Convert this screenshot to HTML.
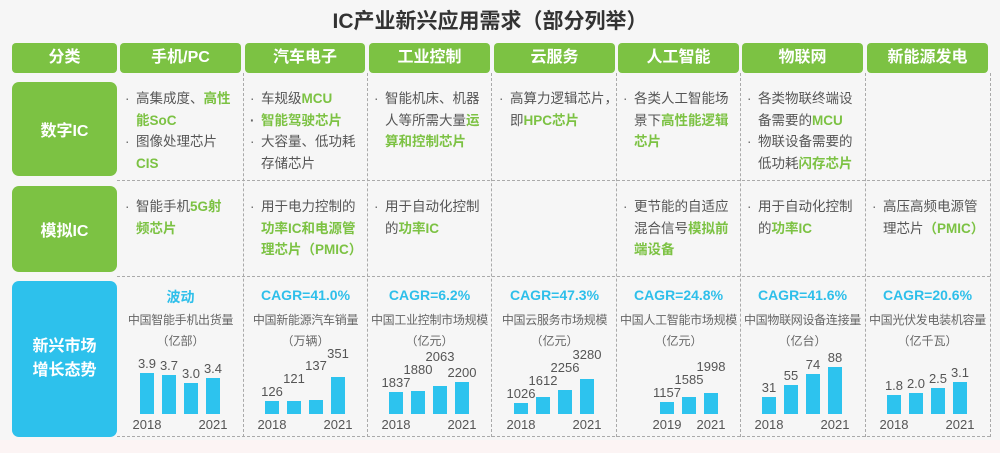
<!DOCTYPE html>
<html><head><meta charset="utf-8"><style>
body{margin:0;width:1000px;height:453px;background:#f6f6f6;font-family:"Liberation Sans","Noto Sans CJK SC",sans-serif;position:relative;overflow:hidden}
.a{position:absolute}
.hd{background:#7cc243;color:#fff;font-weight:bold;font-size:16px;text-align:center;line-height:30px;border-radius:4px;top:43px;height:30px}
.lab{background:#7cc243;color:#fff;font-weight:bold;font-size:16px;display:flex;align-items:center;justify-content:center;border-radius:7px;left:12px;width:105px}
.cell{font-size:13.5px;color:#555;line-height:21.5px;white-space:nowrap}
.cell p{margin:0;padding-left:12px;position:relative}
.cell p:before{content:"·";position:absolute;left:1px;color:#666}
.g{color:#7cc243;font-weight:bold}
.vl{border-left:1px dashed #aaa;width:0;top:73px;height:364px}
.hl{border-top:1px dashed #aaa;height:0;left:117px;width:873px}
</style></head><body>
<div class="a" style="left:0;top:440px;width:1000px;height:13px;background:#fcf4f4"></div>
<div class="a" style="left:0;width:980px;top:5px;text-align:center;font-size:21px;font-weight:bold;color:#333">IC产业新兴应用需求（部分列举）</div>

<div class="a hd" style="left:12px;width:105px">分类</div>
<div class="a hd" style="left:120px;width:121px">手机/PC</div>
<div class="a hd" style="left:245px;width:120px">汽车电子</div>
<div class="a hd" style="left:369px;width:121px">工业控制</div>
<div class="a hd" style="left:494px;width:121px">云服务</div>
<div class="a hd" style="left:618px;width:121px">人工智能</div>
<div class="a hd" style="left:742px;width:121px">物联网</div>
<div class="a hd" style="left:867px;width:121px">新能源发电</div>

<div class="a lab" style="top:82px;height:94px">数字IC</div>
<div class="a lab" style="top:186px;height:86px">模拟IC</div>
<div class="a lab" style="top:281px;height:156px;background:#2dc1ec;line-height:24px;text-align:center">新兴市场<br>增长态势</div>

<div class="a vl" style="left:243px"></div>
<div class="a vl" style="left:367px"></div>
<div class="a vl" style="left:491px"></div>
<div class="a vl" style="left:616px"></div>
<div class="a vl" style="left:740px"></div>
<div class="a vl" style="left:865px"></div>
<div class="a vl" style="left:990px"></div>
<div class="a hl" style="top:180px"></div>
<div class="a hl" style="top:276px"></div>
<div class="a hl" style="top:436px"></div>

<div class="a cell" style="left:124px;top:88px"><p>高集成度、<span class="g">高性<br>能SoC</span></p><p>图像处理芯片<br><span class="g">CIS</span></p></div>
<div class="a cell" style="left:249px;top:88px"><p>车规级<span class="g">MCU</span></p><p class="g">智能驾驶芯片</p><p>大容量、低功耗<br>存储芯片</p></div>
<div class="a cell" style="left:373px;top:88px"><p>智能机床、机器<br>人等所需大量<span class="g">运<br>算和控制芯片</span></p></div>
<div class="a cell" style="left:498px;top:88px"><p>高算力逻辑芯片，<br>即<span class="g">HPC芯片</span></p></div>
<div class="a cell" style="left:622px;top:88px"><p>各类人工智能场<br>景下<span class="g">高性能逻辑<br>芯片</span></p></div>
<div class="a cell" style="left:746px;top:88px"><p>各类物联终端设<br>备需要的<span class="g">MCU</span></p><p>物联设备需要的<br>低功耗<span class="g">闪存芯片</span></p></div>

<div class="a cell" style="left:124px;top:196px"><p>智能手机<span class="g">5G射<br>频芯片</span></p></div>
<div class="a cell" style="left:249px;top:196px"><p>用于电力控制的<br><span class="g">功率IC和电源管<br>理芯片（PMIC）</span></p></div>
<div class="a cell" style="left:373px;top:196px"><p>用于自动化控制<br>的<span class="g">功率IC</span></p></div>
<div class="a cell" style="left:622px;top:196px"><p>更节能的自适应<br>混合信号<span class="g">模拟前<br>端设备</span></p></div>
<div class="a cell" style="left:746px;top:196px"><p>用于自动化控制<br>的<span class="g">功率IC</span></p></div>
<div class="a cell" style="left:871px;top:196px"><p>高压高频电源管<br>理芯片<span class="g">（PMIC）</span></p></div>

<div id="charts"></div>
<script>
const panelTitles=["波动","CAGR=41.0%","CAGR=6.2%","CAGR=47.3%","CAGR=24.8%","CAGR=41.6%","CAGR=20.6%"];
const panelMetrics=["中国智能手机出货量","中国新能源汽车销量","中国工业控制市场规模","中国云服务市场规模","中国人工智能市场规模","中国物联网设备连接量","中国光伏发电装机容量"];
const panelUnits=["（亿部）","（万辆）","（亿元）","（亿元）","（亿元）","（亿台）","（亿千瓦）"];
const years=[[2018,2019,2020,2021],[2018,2019,2020,2021],[2018,2019,2020,2021],[2018,2019,2020,2021],[2019,2020,2021],[2018,2019,2020,2021],[2018,2019,2020,2021]];
const values=[[3.9,3.7,3.0,3.4],[126,121,137,351],[1837,1880,2063,2200],[1026,1612,2256,3280],[1157,1585,1998],[31,55,74,88],[1.8,2.0,2.5,3.1]];
const labels=[["3.9","3.7","3.0","3.4"],["126","121","137","351"],["1837","1880","2063","2200"],["1026","1612","2256","3280"],["1157","1585","1998"],["31","55","74","88"],["1.8","2.0","2.5","3.1"]];
const domainMin=[0,0,1000,0,0,0,0];
const domainMax=[4.2,417,2673,4110,4110,82.4,4.26];
const tickYears=[[2018,2021],[2018,2021],[2018,2021],[2018,2021],[2019,2021],[2018,2021],[2018,2021]];

const colLeft=[120,245,369,494,618,742,867];
const root=document.getElementById('charts');
const baseY=414, plotH=44;
function mk(tag,css,txt){const e=document.createElement(tag);e.className='a';e.style.cssText=css;if(txt!==undefined)e.textContent=txt;root.appendChild(e);return e;}
function textW(s){let w=0;for(const c of s)w+=(c==='.')?3.6:7.2;return w;}
for(let p=0;p<7;p++){
  const L=colLeft[p];
  const yS=v=>plotH*(v-domainMin[p])/(domainMax[p]-domainMin[p]);
  const xS=yr=>L+20+(yr-2018)*22;
  let t=mk('div',`left:${L-4}px;width:129px;top:287px;text-align:center;font-size:14px;font-weight:bold;color:#2ebfea`,panelTitles[p]);
  
  
  t=mk('div',`left:${L-6}px;width:133px;top:311px;text-align:center;font-size:12px;color:#666;white-space:nowrap;letter-spacing:-0.3px`,panelMetrics[p]);
  
  
  t=mk('div',`left:${L}px;width:121px;top:332px;text-align:center;font-size:12px;color:#666`,panelUnits[p]);
  
  
  let prevTop=null, prevRight=-1;
  for(let i=0;i<values[p].length;i++){
    const h=yS(values[p][i]), x=xS(years[p][i]);
    const b=mk('div',`left:${x}px;top:${baseY-h}px;width:14px;height:${h}px;background:#2dc3ee`);
    
    
    const w=textW(labels[p][i]);
    const lx=x+7-w/2;
    let top=baseY-h-17;
    if(prevTop!==null && lx<prevRight+3 && Math.abs(top-prevTop)<13){top=Math.max(prevTop-13,346);}
    const v=mk('div',`left:${lx-5}px;width:${w+10}px;top:${top}px;text-align:center;font-size:13px;color:#555;white-space:nowrap`,labels[p][i]);
    
    
    prevTop=top; prevRight=lx+w;
  }
  tickYears[p].forEach(yr=>{
    const x=xS(yr);
    const e=mk('div',`left:${x-14}px;width:42px;top:417px;text-align:center;font-size:13px;color:#555`,String(yr));
    
    
  });
}
</script>
</body></html>
